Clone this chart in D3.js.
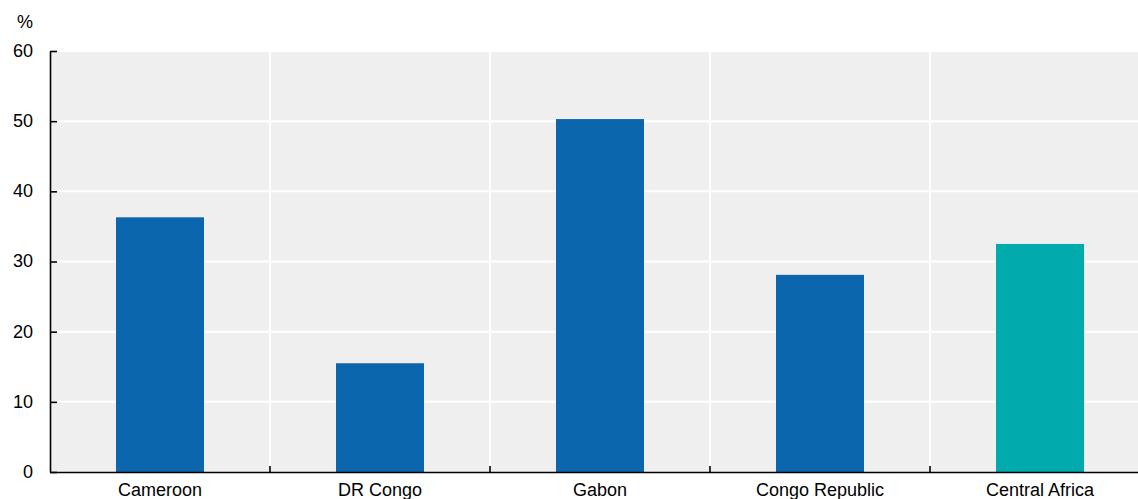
<!DOCTYPE html>
<html><head><meta charset="utf-8">
<script src="https://cdn.jsdelivr.net/npm/d3@7"></script>
<style>body{margin:0;background:#fff}svg{display:block}text{font-family:"Liberation Sans",Arial,sans-serif;fill:#000}</style>
</head><body><svg id="c" width="1138" height="499"></svg>
<script>
const categories = ["Cameroon","DR Congo","Gabon","Congo Republic","Central Africa"];
const values = [36.3, 15.5, 50.3, 28.1, 32.5];
const highlight = ["Central Africa"];
const yTicks = [0,10,20,30,40,50,60];
const unitLabel = "%";

(function(){
const svg = d3.select("#c");
const pL = 50, pR = 1150, pT = 51, pB = 472;
const x = d3.scaleBand().domain(categories).range([pL, pR]).paddingInner(0).paddingOuter(0);
const y = d3.scaleLinear().domain([0, 60]).range([pB, pT]);

svg.append("rect").attr("x", pL).attr("y", pT).attr("width", pR-pL).attr("height", pB-pT).attr("fill", "#efefef");

svg.append("g").selectAll("line").data(yTicks.filter(d=>d>0)).join("line")
  .attr("x1", pL).attr("x2", pR).attr("y1", d=>y(d)).attr("y2", d=>y(d))
  .attr("stroke", "#fff").attr("stroke-width", 2);
const bounds = categories.slice(1).map(c => x(c));
svg.append("g").selectAll("line").data(bounds).join("line")
  .attr("x1", d=>d).attr("x2", d=>d).attr("y1", pT).attr("y2", pB)
  .attr("stroke", "#fff").attr("stroke-width", 2);

const bw = x.bandwidth()*0.4;
svg.append("g").selectAll("rect").data(categories).join("rect")
  .attr("x", (d)=>x(d)+x.bandwidth()/2-bw/2).attr("width", bw)
  .attr("y", (d,i)=>y(values[i])).attr("height", (d,i)=>y(0)-y(values[i]))
  .attr("fill", d=>highlight.includes(d) ? "#00aaad" : "#0c66ad");

const ya = svg.append("g").attr("transform", `translate(${pL},0)`)
  .call(d3.axisLeft(y).tickValues(yTicks).tickSize(-7).tickPadding(16).tickSizeOuter(0));
ya.select(".domain").attr("stroke","#000").attr("stroke-width",1.6);
ya.selectAll(".tick line").attr("stroke","#000").attr("stroke-width",1.6);
ya.selectAll(".tick text").attr("font-size", 18).attr("x", -17).attr("text-anchor","end").attr("dy","0.3em");

const xa = svg.append("g").attr("transform", `translate(0,${pB})`)
  .call(d3.axisBottom(x).tickSize(0).tickPadding(10).tickSizeOuter(0));
xa.select(".domain").attr("stroke","#000").attr("stroke-width",1.6);
xa.selectAll(".tick text").attr("font-size", 18).attr("y", 0).attr("dy", 0).attr("transform", "translate(0,24)");
svg.append("g").selectAll("line").data(bounds).join("line")
  .attr("x1", d=>d).attr("x2", d=>d).attr("y1", pB-6).attr("y2", pB)
  .attr("stroke","#000").attr("stroke-width",1.6);

svg.append("text").attr("x", 25).attr("y", 28).attr("text-anchor","middle").attr("font-size", 18).text(unitLabel);
})();
</script></body></html>
